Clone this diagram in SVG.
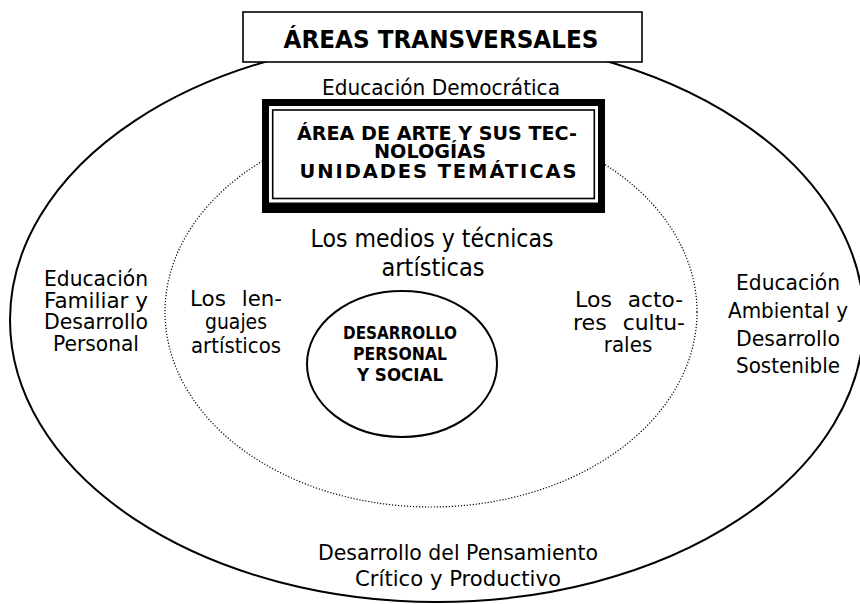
<svg xmlns="http://www.w3.org/2000/svg" width="860" height="604" viewBox="0 0 860 604">
<style>
.t{font-family:"DejaVu Sans",Verdana,sans-serif;font-size:21.5px;fill:#000;text-anchor:middle}
.s{text-anchor:start}
.e{text-anchor:end}
.m{font-size:24px}
.h{font-weight:bold;font-size:24px}
.bx{font-weight:bold;font-size:19.5px}
.c{font-weight:bold;font-size:17.5px}
.line{fill:none;stroke:#000;stroke-width:2}
.dot{fill:none;stroke:#000;stroke-width:1.2;stroke-dasharray:1.2 1.8}
</style>
<rect width="860" height="604" fill="#fff"/>
<g id="outer-ring">
<ellipse cx="437" cy="320" rx="427" ry="282" class="line"/>
</g>
<g id="middle-ring">
<ellipse cx="431" cy="312" rx="266" ry="195" class="dot"/>
</g>
<g id="core">
<ellipse cx="402" cy="364" rx="95" ry="73" class="line"/>
<text class="t c" x="400" y="338.5" textLength="114" lengthAdjust="spacingAndGlyphs">DESARROLLO</text>
<text class="t c" x="400" y="359.5" textLength="94" lengthAdjust="spacingAndGlyphs">PERSONAL</text>
<text class="t c" x="400" y="381" textLength="86" lengthAdjust="spacingAndGlyphs">Y SOCIAL</text>
</g>
<g id="title">
<rect x="243" y="12" width="399" height="50" fill="#fff" stroke="#000" stroke-width="1.6"/>
<text class="t h" x="441" y="48" textLength="315" lengthAdjust="spacingAndGlyphs">ÁREAS TRANSVERSALES</text>
</g>
<g id="area-box">
<rect x="262" y="99" width="343" height="114" fill="#000"/>
<rect x="269" y="106" width="329" height="96.5" fill="#fff"/>
<rect x="272.7" y="110" width="321.6" height="88.5" fill="none" stroke="#000" stroke-width="1.6"/>
<text class="t bx" x="437" y="139.5" textLength="280" lengthAdjust="spacingAndGlyphs">ÁREA DE ARTE Y SUS TEC-</text>
<text class="t bx" x="430" y="158" textLength="112" lengthAdjust="spacingAndGlyphs">NOLOGÍAS</text>
<text class="t bx" x="438" y="178" textLength="277" lengthAdjust="spacing">UNIDADES TEMÁTICAS</text>
</g>
<g id="democratica">
<text class="t" x="441" y="95" textLength="238" lengthAdjust="spacingAndGlyphs">Educación Democrática</text>
</g>
<g id="medios">
<text class="t m" x="432" y="247" textLength="243" lengthAdjust="spacingAndGlyphs">Los medios y técnicas</text>
<text class="t m" x="433" y="276" textLength="103" lengthAdjust="spacingAndGlyphs">artísticas</text>
</g>
<g id="familiar">
<text class="t" x="96" y="286" textLength="104" lengthAdjust="spacingAndGlyphs">Educación</text>
<text class="t" x="96" y="308" textLength="104" lengthAdjust="spacingAndGlyphs">Familiar y</text>
<text class="t" x="96" y="329" textLength="104" lengthAdjust="spacingAndGlyphs">Desarrollo</text>
<text class="t" x="96" y="351" textLength="86" lengthAdjust="spacingAndGlyphs">Personal</text>
</g>
<g id="lenguajes">
<text class="t s" x="190" y="306" textLength="36" lengthAdjust="spacingAndGlyphs">Los</text>
<text class="t e" x="282" y="306" textLength="40.2" lengthAdjust="spacingAndGlyphs">len-</text>
<text class="t" x="236" y="328.5" textLength="62" lengthAdjust="spacingAndGlyphs">guajes</text>
<text class="t" x="236" y="352.5" textLength="90" lengthAdjust="spacingAndGlyphs">artísticos</text>
</g>
<g id="actores">
<text class="t s" x="575" y="306.5" textLength="36.9" lengthAdjust="spacingAndGlyphs">Los</text>
<text class="t e" x="683" y="306.5" textLength="55.2" lengthAdjust="spacingAndGlyphs">acto-</text>
<text class="t s" x="573" y="329.5" textLength="33.8" lengthAdjust="spacingAndGlyphs">res</text>
<text class="t e" x="685" y="329.5" textLength="62.3" lengthAdjust="spacingAndGlyphs">cultu-</text>
<text class="t" x="628" y="352" textLength="48.5" lengthAdjust="spacingAndGlyphs">rales</text>
</g>
<g id="ambiental">
<text class="t" x="788" y="290" textLength="104" lengthAdjust="spacingAndGlyphs">Educación</text>
<text class="t" x="788" y="317.5" textLength="120" lengthAdjust="spacingAndGlyphs">Ambiental y</text>
<text class="t" x="788" y="345.5" textLength="104" lengthAdjust="spacingAndGlyphs">Desarrollo</text>
<text class="t" x="788" y="373" textLength="104" lengthAdjust="spacingAndGlyphs">Sostenible</text>
</g>
<g id="pensamiento">
<text class="t" x="458" y="560" textLength="280" lengthAdjust="spacingAndGlyphs">Desarrollo del Pensamiento</text>
<text class="t" x="458" y="586" textLength="206" lengthAdjust="spacingAndGlyphs">Crítico y Productivo</text>
</g>
</svg>
